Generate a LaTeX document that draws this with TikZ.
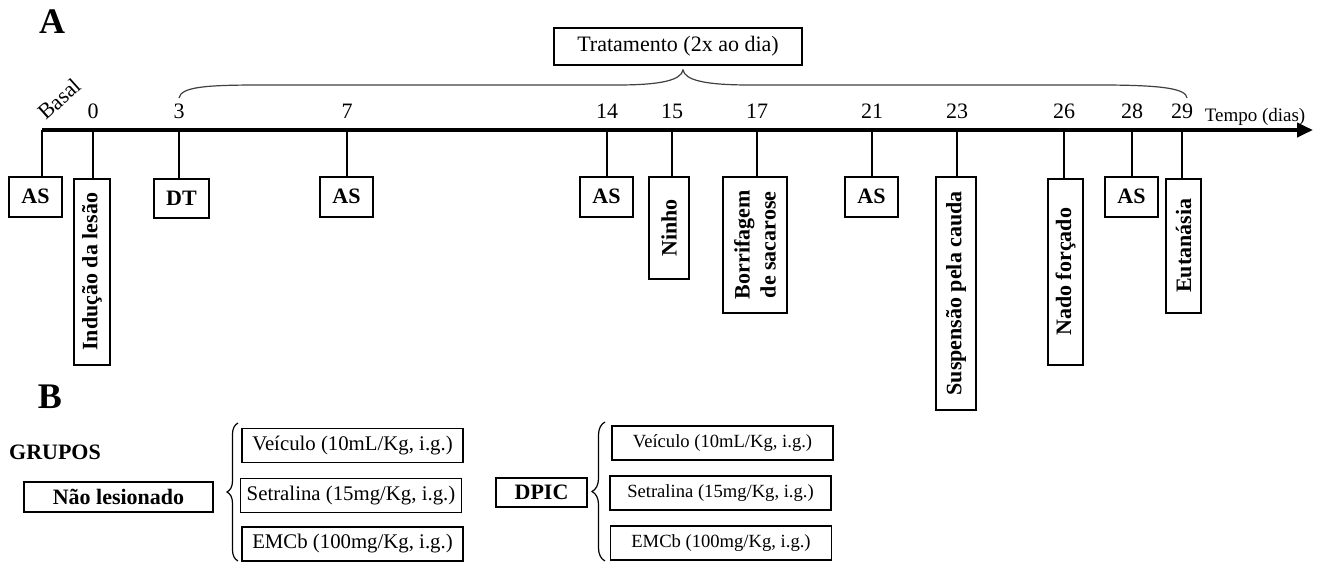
\documentclass[tikz,border=0pt]{standalone}
\usepackage{fontspec}
\setmainfont{Liberation Serif}
\usepackage{tikz}
\usetikzlibrary{arrows.meta,calc,positioning}
\usetikzlibrary{decorations.pathreplacing}

\begin{document}
\begin{tikzpicture}[x=0.5pt, y=-0.5pt,
        box/.style={draw, line width=0.8pt, inner sep=2pt, font=\fontsize{11}{13}\selectfont\bfseries},
        hbox/.style={box, anchor=north, minimum width=26.5pt, minimum height=20pt},
        vbox/.style={box, rotate=90, anchor=east, align=center},
        tick/.style={line width=0.6pt},
        daylbl/.style={font=\fontsize{11}{13}\selectfont},
        grp/.style={draw, line width=0.8pt, minimum width=110.5pt, minimum height=17pt, inner sep=1pt, font=\fontsize{10.4}{12}\selectfont},
        bbrace/.style={decorate, line width=0.6pt}]
                \useasboundingbox (0,0) rectangle (1325,562);
                \coordinate (ax0) at (42,130);
                \coordinate (axEnd) at (1313,130);
                \draw[line width=2.4pt, -{Triangle[length=8pt,width=7pt]}] (ax0) -- (axEnd);
                \node[daylbl, rotate=42, inner sep=0pt] (basal) at (59,99) {Basal};
                \foreach \d/\x in {0/93,3/179,7/347,14/607,15/672,17/757,21/872,23/957,26/1064,28/1132,29/1182}
                {
                    \coordinate (d\d) at (\x,130);
                    \node[daylbl] (n\d) at (\x,111) {\d};
                }
                \node[font=\fontsize{9.5}{11}\selectfont] (tempo) at (1255,117) {Tempo (dias)};
                \node[font=\fontsize{18}{20}\selectfont\bfseries] (lblA) at (52,22) {A};
                \node[draw, line width=0.8pt, minimum width=124pt, minimum height=18.5pt, daylbl] (trat) at (678,46.5) {Tratamento (2x ao dia)};
                \draw[line width=0.6pt, black!75] (179,98) .. controls (181,87) and (205,85) .. (260,85) -- (617,85)
                    .. controls (662,85) and (681,80) .. (683,70) .. controls (685,80) and (704,85) .. (750,85) -- (1100,85)
                    .. controls (1165,85) and (1186,89) .. (1187,98);
                \node[hbox] (asB) at (35.5,176) {AS};
                \node[vbox, minimum width=93pt, minimum height=18pt] (ind) at (92,178) {Indução da lesão};
                \node[hbox, minimum width=27.5pt, minimum height=19.5pt] (dt) at (181.5,178) {DT};
                \node[hbox] (as7) at (346.5,176) {AS};
                \node[hbox] (as14) at (606.5,176) {AS};
                \node[vbox, minimum width=51pt, minimum height=20pt] (ninho) at (669,176) {Ninho};
                \node[vbox, minimum width=68pt, minimum height=32pt] (borr) at (755,176) {Borrifagem\\de sacarose};
                \node[hbox] (as21) at (871.5,176) {AS};
                \node[vbox, minimum width=116.5pt, minimum height=20pt] (susp) at (956,176) {Suspensão pela cauda};
                \node[vbox, minimum width=93pt, minimum height=17.5pt] (nado) at (1065.5,178) {Nado forçado};
                \node[hbox] (as28) at (1131.5,176) {AS};
                \node[vbox, minimum width=67pt, minimum height=17.5pt] (euta) at (1183.5,178) {Eutanásia};
                \draw[tick] (ax0) -- (ax0 |- asB.north);
                \draw[tick] (d0) -- (d0 |- ind.east);
                \draw[tick] (d3) -- (d3 |- dt.north);
                \draw[tick] (d7) -- (d7 |- as7.north);
                \draw[tick] (d14) -- (d14 |- as14.north);
                \draw[tick] (d15) -- (d15 |- ninho.east);
                \draw[tick] (d17) -- (d17 |- borr.east);
                \draw[tick] (d21) -- (d21 |- as21.north);
                \draw[tick] (d23) -- (d23 |- susp.east);
                \draw[tick] (d26) -- (d26 |- nado.east);
                \draw[tick] (d28) -- (d28 |- as28.north);
                \draw[tick] (d29) -- (d29 |- euta.east);
                \node[font=\fontsize{18}{20}\selectfont\bfseries] (lblB) at (50,397) {B};
                \node[font=\fontsize{11}{13}\selectfont\bfseries] (grupos) at (55,452) {GRUPOS};
                \node[box, minimum width=94.5pt, minimum height=15pt] (naoles) at (118.5,497) {Não lesionado};
                \draw[bbrace, decoration={brace, amplitude=5.5pt}] (238,561) -- (238,423);
                \node[grp] (veicL) at (352.5,445.5) {Veículo (10mL/Kg, i.g.)};
                \node[grp] (setrL) at (351,495.5) {Setralina (15mg/Kg, i.g.)};
                \node[grp] (emcbL) at (352.5,544) {EMCb (100mg/Kg, i.g.)};
                \node[box, minimum width=45.5pt, minimum height=14.5pt] (dpic) at (541.5,492.5) {DPIC};
                \draw[bbrace, decoration={brace, amplitude=6.5pt}] (605,561) -- (605,422);
                \node[grp, font=\fontsize{9.3}{11}\selectfont] (veicR) at (722.5,443) {Veículo (10mL/Kg, i.g.)};
                \node[grp, font=\fontsize{9.3}{11}\selectfont] (setrR) at (720.5,493) {Setralina (15mg/Kg, i.g.)};
                \node[grp, font=\fontsize{9.3}{11}\selectfont] (emcbR) at (721,543) {EMCb (100mg/Kg, i.g.)};
            \end{tikzpicture}
\end{document}
